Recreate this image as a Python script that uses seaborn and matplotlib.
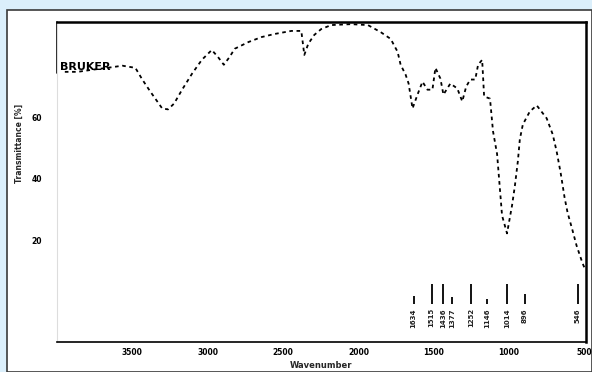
import matplotlib
matplotlib.use("Agg")
import matplotlib.pyplot as plt
import seaborn as sns
import pandas as pd
from matplotlib.patches import Rectangle

# ---- data ----
wavenumber = [3948, 3863, 3764, 3665, 3566, 3480, 3434, 3381, 3335, 3302, 3263, 3223,
              3170, 3104, 3039, 2973, 2933, 2893, 2854, 2821, 2729, 2643, 2557, 2445,
              2379, 2359, 2333, 2293, 2247, 2181, 2050, 1937, 1852, 1786, 1740, 1720,
              1687, 1667, 1641, 1608, 1575, 1542, 1509, 1489, 1456, 1436, 1390, 1344,
              1311, 1285, 1258, 1225, 1206, 1179, 1166, 1127, 1107, 1080, 1047, 1014,
              981, 962, 942, 929, 909, 863, 817, 751, 711, 685, 658, 632, 612, 579,
              553, 513, 493]
transmittance = [74.8, 74.8, 75.5, 76.1, 76.8, 76.1, 72.3, 68.4, 65.2, 62.9, 62.6, 64.5,
                 69.0, 74.2, 78.7, 81.9, 79.7, 77.1, 79.7, 82.3, 84.5, 86.1, 87.1, 88.1,
                 88.1, 80.3, 83.9, 86.8, 88.7, 90.0, 90.3, 90.0, 87.7, 85.5, 81.3, 77.1,
                 73.9, 71.0, 62.9, 67.4, 71.6, 69.0, 69.0, 76.1, 72.6, 67.4, 71.0, 69.4,
                 65.2, 70.0, 72.3, 72.3, 77.1, 78.7, 66.8, 66.1, 55.5, 48.1, 28.1, 22.3,
                 31.3, 37.7, 45.8, 52.9, 57.7, 61.9, 63.9, 59.7, 54.5, 49.0, 41.9, 33.9,
                 29.0, 23.2, 18.4, 12.6, 10.3]

peak_positions = [1634, 1515, 1436, 1377, 1252, 1146, 1014, 896, 546]
peak_labels = ["1634", "1515", "1436", "1377", "1252", "1146", "1014", "896", "546"]
peak_line_top = [2.0, 6.0, 6.0, 1.5, 6.0, 1.0, 6.0, 2.5, 6.0]

x_ticks = [3500, 3000, 2500, 2000, 1500, 1000, 500]
x_tick_labels = ["3500", "3000", "2500", "2000", "1500", "1000", "500"]
y_ticks = [20, 40, 60]
y_tick_labels = ["20", "40", "60"]

df = pd.DataFrame({"Wavenumber": wavenumber, "Transmittance": transmittance})

sns.set_style("white")
plt.rcParams["font.family"] = ["DejaVu Sans"]

W, H = 592, 372
fig = plt.figure(figsize=(W / 100, H / 100), dpi=100, facecolor="#dbeffb")
fig.patches.append(Rectangle((7 / W, 0), 1 - 7 / W, 1 - 10 / H, transform=fig.transFigure,
                             facecolor="white", edgecolor="#3a3a3a", linewidth=1.2,
                             zorder=-10))

ax = fig.add_axes([57 / W, 1 - 342 / H, (586 - 57) / W, 320 / H])
ax.set_zorder(5)
ax.set_facecolor("none")

sns.lineplot(data=df, x="Wavenumber", y="Transmittance", sort=False, estimator=None,
             ax=ax, color="black", linewidth=1.3, linestyle=(0, (2, 2)))

ax.set_xlim(4000, 490)
ax.set_ylim(-13, 91)

# peak markers and labels
for wn, lab, top in zip(peak_positions, peak_labels, peak_line_top):
    ax.vlines(wn, -0.5, top, color="black", linewidth=1.3)
    ax.text(wn, -2, lab, rotation=90, ha="center", va="top", fontsize=5,
            fontweight="bold", color="#222222")

ax.set_xticks(x_ticks)
ax.set_xticklabels(x_tick_labels, fontsize=5.5, fontweight="bold")
ax.set_yticks(y_ticks)
ax.set_yticklabels(y_tick_labels, fontsize=5.5, fontweight="bold")
ax.tick_params(axis="x", direction="in", length=3, width=1, pad=4, colors="black")
ax.tick_params(axis="y", direction="out", length=3, width=1, pad=8, colors="black")

ax.set_xlabel("Wavenumber", fontsize=6, fontweight="bold", labelpad=3)
ax.set_ylabel("Transmittance [%]", fontsize=5.5, fontweight="bold")
ax.yaxis.set_label_coords(-0.062, 0.62)

for side in ["top", "right", "bottom"]:
    ax.spines[side].set_visible(True)
    ax.spines[side].set_color("black")
ax.spines["top"].set_linewidth(1.8)
ax.spines["right"].set_linewidth(1.8)
ax.spines["bottom"].set_linewidth(1.2)
ax.spines["left"].set_color("#dddddd")
ax.spines["left"].set_linewidth(0.8)

# logo box in the top-left corner
ax.text(0.005, 0.86, "BRUKER", transform=ax.transAxes, fontsize=8, fontweight="bold",
        ha="left", va="center", color="black")
ax.plot([0.0, 0.0], [0.84, 1.0], transform=ax.transAxes, color="black", lw=1.2,
        clip_on=False)

fig.savefig("out.png", dpi=100, facecolor=fig.get_facecolor())
